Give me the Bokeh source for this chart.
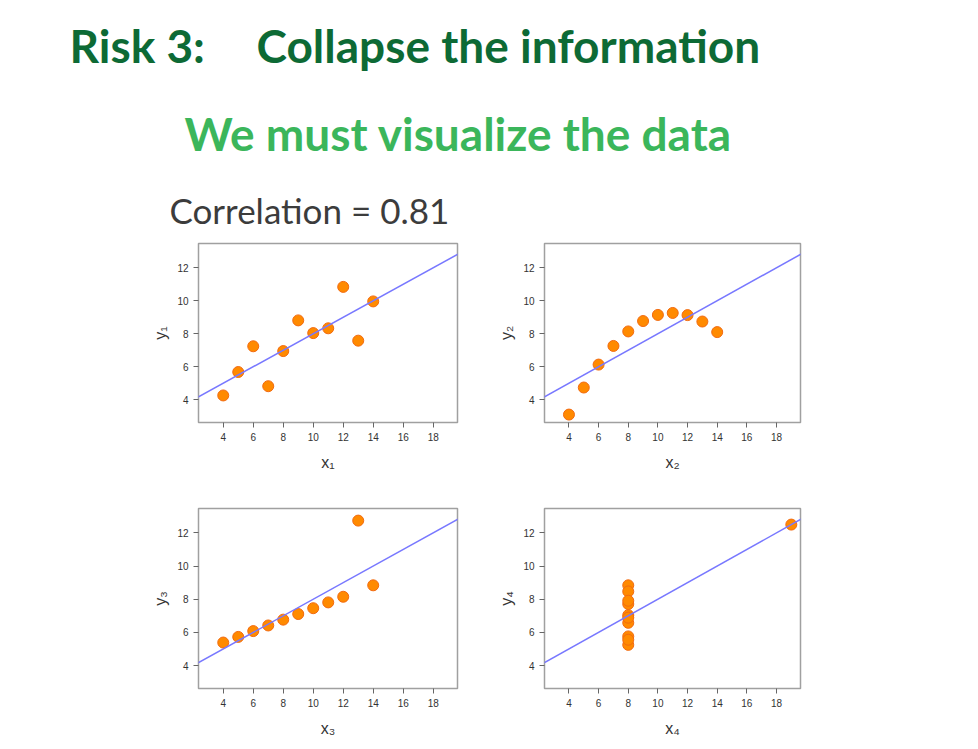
from bokeh.plotting import figure
from bokeh.layouts import column, row
from bokeh.models import Range1d, FixedTicker, Slope
from bokeh.core.properties import value
from bokeh.embed import file_html
from bokeh.resources import INLINE

# ---- data (Anscombe's quartet) ----
x123 = [10, 8, 13, 9, 11, 14, 6, 4, 12, 7, 5]
y1 = [8.04, 6.95, 7.58, 8.81, 8.33, 9.96, 7.24, 4.26, 10.84, 4.82, 5.68]
y2 = [9.14, 8.14, 8.74, 8.77, 9.26, 8.10, 6.13, 3.10, 9.13, 7.26, 4.74]
y3 = [7.46, 6.77, 12.74, 7.11, 7.81, 8.84, 6.08, 5.39, 8.15, 6.42, 5.73]
x4 = [8, 8, 8, 8, 8, 8, 8, 19, 8, 8, 8]
y4 = [6.58, 5.76, 7.71, 8.84, 8.47, 7.04, 5.25, 12.50, 5.56, 7.91, 6.89]
fit_intercept = 3.0
fit_slope = 0.5
x_ticks = [4, 6, 8, 10, 12, 14, 16, 18]
y_ticks = [4, 6, 8, 10, 12]
x_labels = ["x₁", "x₂", "x₃", "x₄"]
y_labels = ["y₁", "y₂", "y₃", "y₄"]
title_left = "Risk 3:"
title_right = "Collapse the information"
subtitle = "We must visualize the data"
corr_text = "Correlation = 0.81"

W = 970
TH = 235

# ---- title area ----
tf = figure(width=W, height=TH, output_backend="svg", toolbar_location=None, title=None,
            x_range=Range1d(0, W), y_range=Range1d(TH, 0))
tf.axis.visible = False
tf.grid.visible = False
tf.outline_line_color = None
tf.min_border = 0
tf.text(x=[69], y=[45], text=[title_left], text_font=value("Lato"), text_font_style="bold",
        text_font_size="46px", text_color="#0d6a35", text_baseline="alphabetic")
tf.text(x=[256], y=[45], text=[title_right], text_font=value("Lato"), text_font_style="bold",
        text_font_size="46px", text_color="#0d6a35", text_baseline="alphabetic")
tf.text(x=[184], y=[133], text=[subtitle], text_font=value("Lato"), text_font_style="bold",
        text_font_size="46px", text_color="#3bb65b", text_baseline="alphabetic")
tf.text(x=[169], y=[209], text=[corr_text], text_font=value("Lato"),
        text_font_size="35px", text_color="#3c3c3c", text_baseline="alphabetic")


def panel(xs, ys, xl, yl, width, height, bl, br, bt, bb):
    p = figure(width=width, height=height, output_backend="svg", toolbar_location=None,
               title=None, x_range=Range1d(2.35, 19.62), y_range=Range1d(2.62, 13.47))
    p.min_border_left = bl
    p.min_border_right = br
    p.min_border_top = bt
    p.min_border_bottom = bb
    p.grid.visible = False
    p.outline_line_color = "#a0a0a0"
    p.outline_line_width = 1.5
    p.xaxis.ticker = FixedTicker(ticks=x_ticks)
    p.yaxis.ticker = FixedTicker(ticks=y_ticks)
    for ax in (p.xaxis[0], p.yaxis[0]):
        ax.axis_line_color = None
        ax.major_tick_line_color = "#666666"
        ax.major_tick_out = 5
        ax.major_tick_in = 0
        ax.minor_tick_line_color = None
        ax.major_label_text_font = "Liberation Sans"
        ax.major_label_text_font_size = "10px"
        ax.major_label_text_color = "#333333"
        ax.axis_label_text_font = "Liberation Sans"
        ax.axis_label_text_font_size = "16px"
        ax.axis_label_text_font_style = "normal"
        ax.axis_label_text_color = "#333333"
        ax.major_label_standoff = 5
    p.xaxis.axis_label_standoff = 10
    p.yaxis.axis_label_standoff = 5
    p.xaxis.axis_label = xl
    p.yaxis.axis_label = yl
    p.add_layout(Slope(gradient=fit_slope, y_intercept=fit_intercept,
                       line_color="#7878ff", line_width=1.5))
    p.scatter(xs, ys, size=11, fill_color="#ff8a00", line_color="#f26a10", line_width=1)
    return p


p1 = panel(x123, y1, x_labels[0], y_labels[0], 495, 245, 198, 38, 8, 58)
p2 = panel(x123, y2, x_labels[1], y_labels[1], 475, 245, 45, 170, 8, 58)
p3 = panel(x123, y3, x_labels[2], y_labels[2], 495, 260, 198, 38, 28, 52)
p4 = panel(x4, y4, x_labels[3], y_labels[3], 475, 260, 45, 170, 28, 52)

layout = column(tf, row(p1, p2), row(p3, p4))
open("out.html", "w").write(file_html(layout, INLINE))
